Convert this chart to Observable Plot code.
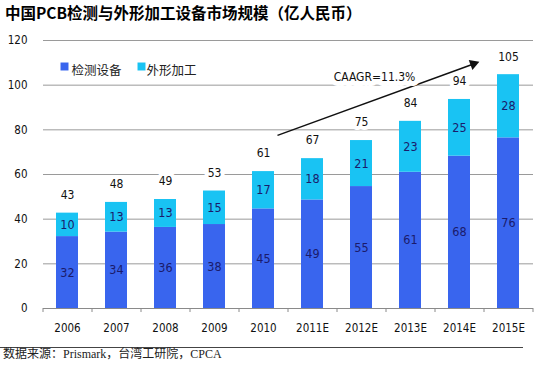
<!DOCTYPE html>
<html><head><meta charset="utf-8">
<script src="https://cdn.jsdelivr.net/npm/d3@7"></script>
<script src="https://cdn.jsdelivr.net/npm/@observablehq/plot@0.6"></script>
<style>
body{margin:0;background:#fff;width:549px;height:365px;overflow:hidden;font-family:"Noto Sans CJK SC",sans-serif;}
#title{height:25px;line-height:25px;padding-left:5px;font-size:15.5px;font-weight:bold;color:#000;white-space:nowrap;}
#chart{height:322px;}
#foot{width:520px;border-top:1px solid #444;font-size:12px;line-height:13px;padding-left:3px;color:#222;font-family:"Liberation Serif","Noto Sans CJK SC",serif;white-space:nowrap;}
</style></head><body>
<div id="title">中国PCB检测与外形加工设备市场规模（亿人民币）</div>
<div id="chart"></div>
<div id="foot">数据来源：Prismark，台湾工研院，CPCA</div>
<script>
const years = ["2006","2007","2008","2009","2010","2011E","2012E","2013E","2014E","2015E"];
const series = ["检测设备","外形加工"];
const inspection = [32.2,34.2,36.3,37.6,44.6,48.6,54.6,61.0,68.2,76.4];
const profiling = [10.5,13.3,12.5,15.0,16.7,18.5,20.6,22.8,25.4,28.3];
const inspectionLabels = ["32","34","36","38","45","49","55","61","68","76"];
const profilingLabels = ["10","13","13","15","17","18","21","23","25","28"];
const totalLabels = ["43","48","49","53","61","67","75","84","94","105"];
const yTicks = [0,20,40,60,80,100,120];
const cagrText = "CAAGR=11.3%";
const cagrStart = {year:"2010", value:77.5};
const cagrEnd = {year:"2014E", value:109.5};
const cagrLabelAt = {year:"2012E", value:103.4};

const colors = ["#3965ee","#19c3f3"];
const numFont = "'DejaVu Sans Condensed','DejaVu Sans',sans-serif";

const rows = [];
years.forEach((y,i)=>{
  rows.push({year:y, series:series[0], y1:0, y2:inspection[i], label:inspectionLabels[i]});
  rows.push({year:y, series:series[1], y1:inspection[i], y2:inspection[i]+profiling[i], label:profilingLabels[i]});
});
rows.forEach(r=>r.mid=(r.y1+r.y2)/2);
const totals = years.map((y,i)=>({year:y, total:inspection[i]+profiling[i], label:totalLabels[i]}));

const chart = Plot.plot({
  width:549, height:322,
  marginLeft:43, marginRight:16, marginTop:15, marginBottom:39,
  style:{fontFamily:numFont, fontSize:"11px", color:"#111", background:"white"},
  x:{type:"band", domain:years, paddingInner:0.55, paddingOuter:0.275, label:null},
  y:{domain:[0,120], label:null},
  color:{domain:series, range:colors},
  marks:[
    Plot.ruleY(yTicks.filter(d=>d>0), {y:d=>d, stroke:"#9a9a9a", strokeWidth:1}),
    Plot.ruleY([0], {stroke:"#8a8a8a", strokeWidth:1}),
    Plot.ruleX(years, {x:d=>d, dx:-24.5, y1:0, y2:-1.8, stroke:"#8a8a8a"}),
    Plot.ruleX(years.slice(-1), {x:d=>d, dx:24.5, y1:0, y2:-1.8, stroke:"#8a8a8a"}),
    Plot.rectY(rows, {x:"year", y1:"y1", y2:"y2", fill:"series"}),
    Plot.text(rows, {x:"year", y:"mid", text:"label", fill:"#1b1b6b", fontSize:12.5, fontFamily:numFont}),
    Plot.text(totals, {x:"year", y:"total", text:"label", dy:-18, fill:"#111", fontSize:12, fontFamily:numFont, stroke:"white", strokeWidth:8, strokeLinejoin:"round", paintOrder:"stroke"}),
    Plot.link([0], {x1:()=>cagrStart.year, y1:()=>cagrStart.value, x2:()=>cagrEnd.year, y2:()=>cagrEnd.value, dx:14, stroke:"#111", strokeWidth:1.5}),
    Plot.dot([0], {x:()=>cagrEnd.year, y:()=>cagrEnd.value, dx:14, symbol:"triangle", r:4, rotate:70, fill:"#111", stroke:"none"}),
    Plot.text([cagrText], {x:()=>cagrLabelAt.year, y:()=>cagrLabelAt.value, dx:13, text:d=>d, fill:"#111", fontSize:12, fontFamily:numFont, stroke:"white", strokeWidth:10, strokeLinejoin:"round", paintOrder:"stroke"}),
    Plot.axisY(yTicks, {tickSize:0, tickPadding:16, fontSize:11.5, fill:"#111"}),
    Plot.axisX({tickSize:0, tickPadding:15, fontSize:11.5, fill:"#111"}),
    ...series.map((s,i)=>Plot.dot([s], {frameAnchor:"top-left", dx:[21,98][i], dy:26, symbol:"square", r:4.5, fill:colors[i], stroke:"none"})),
    ...series.map((s,i)=>Plot.text([s], {frameAnchor:"top-left", dx:[28,103][i], dy:26, text:d=>d, textAnchor:"start", fontSize:12.5, fontFamily:"'Noto Sans CJK SC',sans-serif", fill:"#222"}))
  ]
});
document.getElementById("chart").appendChild(chart);
</script>
</body></html>
